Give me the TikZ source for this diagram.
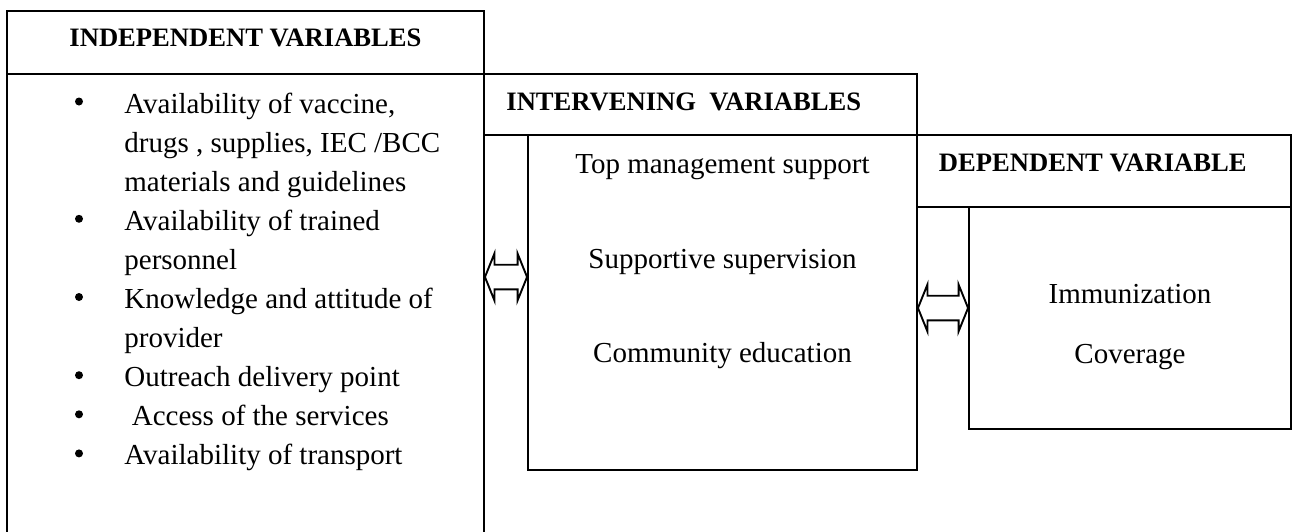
\documentclass[tikz,border=0pt]{standalone}
\usepackage{fontspec}
\setmainfont{Liberation Serif}
\usetikzlibrary{fit,calc}

% double-headed block arrow between two tip points
\newcommand\linkdbl[2]{%
  \draw[linkarrow] (#1) -- ($(#1)+(9.5,-23.5)$) -- ($(#1)+(9.5,-12.3)$)
    -- ($(#2)+(-9.5,-12.3)$) -- ($(#2)+(-9.5,-23.5)$) -- (#2)
    -- ($(#2)+(-9.5,23.5)$) -- ($(#2)+(-9.5,12.3)$)
    -- ($(#1)+(9.5,12.3)$) -- ($(#1)+(9.5,23.5)$) -- cycle;}

\begin{document}
\begin{tikzpicture}[x=0.5pt,y=-0.5pt,
  frame/.style={draw=black, line width=0.95pt, inner sep=0pt},
  headtxt/.style={font=\fontsize{13.3}{16}\selectfont\bfseries, inner sep=0pt},
  bodytxt/.style={font=\fontsize{14.5}{17}\selectfont, inner sep=0pt},
  dot/.style={circle, fill=black, inner sep=0pt, minimum size=4pt},
  linkarrow/.style={draw=black, line width=0.95pt, line join=miter}]
\useasboundingbox (0,0) rectangle (1294,531);
\clip (0,0) rectangle (1294,531);
\fill[white] (0,0) rectangle (1294,531);

% frames
\node[frame, fit={(7,11) (484,74)}] (indhead) {};
\node[frame, fit={(7,74) (484,560)}] (indbody) {};
\node[frame, fit={(484,74) (917,135)}] (inthead) {};
\node[frame, fit={(528,135) (917,470)}] (intbody) {};
\node[frame, fit={(917,135) (1291,206.7)}] (dephead) {};
\node[frame, fit={(969,206.7) (1291,429)}] (depbody) {};

% titles
\node[headtxt, anchor=base] (indtitle) at (245.5,46.7) {INDEPENDENT VARIABLES};
\node[headtxt, anchor=base west] (inttitle) at (506,110) {INTERVENING\ \ VARIABLES};
\node[headtxt, anchor=base west] (deptitle) at (938.5,171) {DEPENDENT VARIABLE};

% independent variables list
\foreach \i/\xx/\t in {0/124/{Availability of vaccine,},
                      1/124/{drugs , supplies, IEC /BCC},
                      2/124/{materials and guidelines},
                      3/124/{Availability of trained},
                      4/124/{personnel},
                      5/124/{Knowledge and attitude of},
                      6/124/{provider},
                      7/124/{Outreach delivery point},
                      8/131.5/{Access of the services},
                      9/124/{Availability of transport}}
  \node[bodytxt, anchor=base west] (item\i) at (\xx,{113+39.1*\i}) {\t};
\foreach \k in {0,3,5,7,8,9}
  \node[dot] (bul\k) at (79,{101.5+39.1*\k}) {};

% intervening variables
\node[bodytxt, anchor=base] (iv1) at (722.5,173.3) {Top management support};
\node[bodytxt, anchor=base] (iv2) at (722.5,268.3) {Supportive supervision};
\node[bodytxt, anchor=base] (iv3) at (722.5,362.7) {Community education};

% dependent variable
\node[bodytxt, anchor=base] (dv1) at (1130,303.3) {Immunization};
\node[bodytxt, anchor=base] (dv2) at (1130,363.3) {Coverage};

% links
\coordinate (ya) at (0,277);
\coordinate (yb) at (0,308);
\coordinate (a1l) at (indbody.east |- ya);
\coordinate (a1r) at (intbody.west |- ya);
\coordinate (a2l) at (intbody.east |- yb);
\coordinate (a2r) at (depbody.west |- yb);
\linkdbl{a1l}{a1r}
\linkdbl{a2l}{a2r}
\end{tikzpicture}
\end{document}
